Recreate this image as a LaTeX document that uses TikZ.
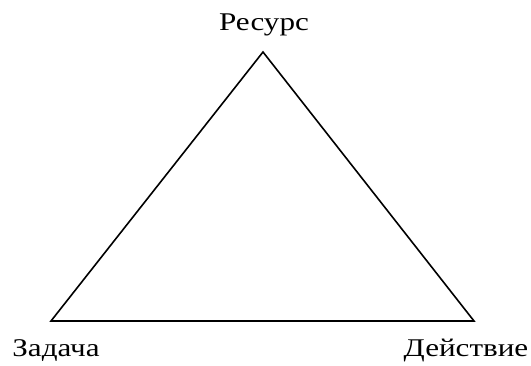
\documentclass[tikz,border=0pt]{standalone}
\usepackage{fontspec}
\setmainfont{Liberation Serif}
\newfontfamily\widefont[FakeStretch=1.22]{Liberation Serif}
\begin{document}
\begin{tikzpicture}[x=1pt,y=1pt,
  lbl/.style={anchor=base,inner sep=0pt,font=\widefont\fontsize{25.5}{30}\selectfont},
  edge/.style={line width=1.6pt,line join=miter}]
\useasboundingbox (0,0) rectangle (531,365);
\coordinate (t) at (263,313);
\coordinate (l) at (51,44);
\coordinate (r) at (474,44);
\draw[edge] (t) -- (l) -- (r) -- cycle;
\node[lbl] (res) at (264,334) {Ресурс};
\node[lbl] (zad) at (56,8.5) {Задача};
\node[lbl] (dei) at (466,8.5) {Действие};
\end{tikzpicture}
\end{document}
